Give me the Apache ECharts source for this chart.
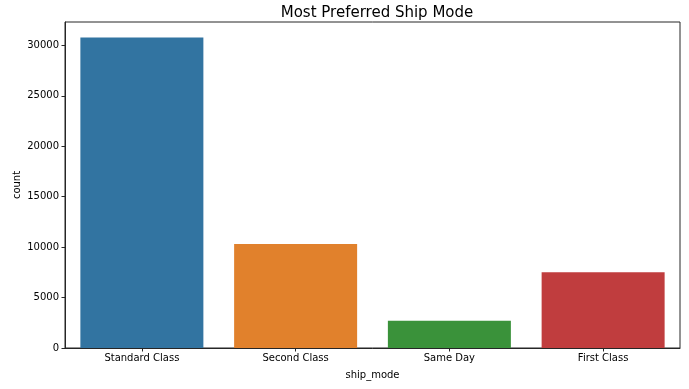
<!DOCTYPE html>
<html>
<head>
<meta charset="utf-8">
<script src="https://cdn.jsdelivr.net/npm/echarts@6/dist/echarts.min.js"></script>
<style>html,body{margin:0;padding:0;background:#fff}#c{width:689px;height:389px}</style>
</head>
<body>
<div id="c"></div>
<script>
const categories = ['Standard Class', 'Second Class', 'Same Day', 'First Class'];
const counts = [30775, 10309, 2701, 7505];
const colors = ['#3274a1', '#e1812c', '#3a923a', '#c03d3e'];
const yTicks = [0, 5000, 10000, 15000, 20000, 25000, 30000];

const chart = echarts.init(document.getElementById('c'));
const font = 'DejaVu Sans';
chart.setOption({
  animation: false,
  title: {
    text: 'Most Preferred Ship Mode',
    left: 372, top: 1, textAlign: 'center',
    textStyle: { fontFamily: font, fontSize: 15, fontWeight: 'normal', color: '#000' }
  },
  grid: { left: 65, right: 9, top: 22, bottom: 41, show: true, borderColor: '#262626', borderWidth: 1,
    backgroundColor: 'transparent', containLabel: false, outerBoundsMode: 'none' },
  xAxis: {
    type: 'category', data: categories,
    name: 'ship_mode', nameLocation: 'middle', nameGap: 22, nameMoveOverlap: false,
    nameTextStyle: { fontFamily: font, fontSize: 10, color: '#000' },
    axisLine: { lineStyle: { color: '#262626', width: 1 } },
    axisTick: { show: true, alignWithLabel: true, length: 3.5, lineStyle: { color: '#262626' } },
    axisLabel: { fontFamily: font, fontSize: 10, color: '#000', margin: 5 },
    splitLine: { show: false }
  },
  yAxis: {
    type: 'value', min: 0, max: 32314, interval: 5000,
    name: 'count', nameLocation: 'middle', nameGap: 43, nameRotate: 90, nameMoveOverlap: false,
    nameTextStyle: { fontFamily: font, fontSize: 10, color: '#000' },
    axisLine: { show: true, lineStyle: { color: '#262626', width: 1 } },
    axisTick: { show: true, length: 3.5, lineStyle: { color: '#262626' } },
    axisLabel: { fontFamily: font, fontSize: 10, color: '#000', margin: 6, showMaxLabel: false,
      formatter: v => yTicks.includes(v) ? String(v) : '' },
    splitLine: { show: false }
  },
  series: [{
    type: 'bar',
    barCategoryGap: '20%',
    data: counts.map((v, i) => ({ value: v, itemStyle: { color: colors[i] } }))
  }]
});
</script>
</body>
</html>
